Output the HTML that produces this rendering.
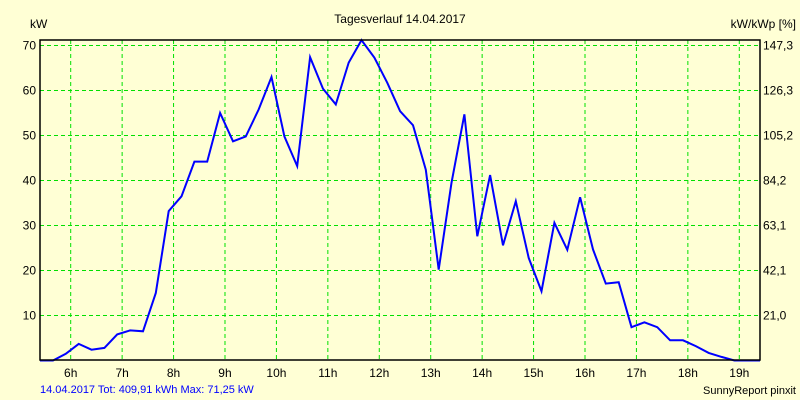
<!DOCTYPE html>
<html><head><meta charset="utf-8"><style>
body{margin:0;background:#FFFFD5;}
svg{display:block;font-family:"Liberation Sans",sans-serif;}
</style></head><body>
<svg id="chart" width="800" height="400">
<rect x="0" y="0" width="800" height="400" fill="#FFFFD5"/>
<text x="400" y="23" text-anchor="middle" font-size="12">Tagesverlauf 14.04.2017</text>
<text x="30" y="28" font-size="12">kW</text>
<text x="796" y="28" text-anchor="end" font-size="12">kW/kWp [%]</text>
<g id="grid"></g>
<g id="yl"></g><g id="yr"></g><g id="xl"></g>
<path id="line" fill="none" stroke="#0000FF" stroke-width="2"/>
<rect x="40" y="40" width="720" height="320" fill="none" stroke="#000" stroke-width="1.5"/>
<text x="40" y="393" font-size="11" fill="#0000FF">14.04.2017 Tot: 409,91 kWh Max: 71,25 kW</text>
<text x="796" y="394" text-anchor="end" font-size="11">SunnyReport pinxit</text>
</svg>
<script>
const yTicks=[10,20,30,40,50,60,70];
const y2Labels=["21,0","42,1","63,1","84,2","105,2","126,3","147,3"];
const hourTicks=[6,7,8,9,10,11,12,13,14,15,16,17,18,19];
const startHour=5.655;
const stepHour=0.25;
const power=[0,1.5,3.7,2.4,2.8,5.8,6.7,6.5,15,33.2,36.5,44.2,44.2,55,48.7,49.8,55.8,63,49.8,43.2,67.4,60.4,56.9,66.2,71.2,67.3,61.7,55.4,52.3,42.4,20.2,39.5,54.7,27.6,41.2,25.6,35.4,22.8,15.4,30.6,24.6,36.3,24.7,17.1,17.4,7.4,8.5,7.4,4.5,4.5,3.2,1.7,0.8,0];
const NS="http://www.w3.org/2000/svg";
const X=h=>70.7+(h-6)*51.43;
const Y=v=>360.5-v*4.5;
function mk(tag,parent,attrs){const e=document.createElementNS(NS,tag);for(const k in attrs)e.setAttribute(k,attrs[k]);document.getElementById(parent).appendChild(e);return e;}
yTicks.forEach((v,i)=>{
 const l=mk('line','grid',{x1:40,x2:760,y1:Y(v),y2:Y(v),stroke:'#00E000','stroke-dasharray':'4,3'});
 
 
 const t=mk('text','yl',{x:36,y:Y(v)+4,'text-anchor':'end','font-size':12});t.textContent=v;
 
 
 const t2=mk('text','yr',{x:763,y:Y(v)+4,'font-size':12});t2.textContent=y2Labels[i];
 
 
});
hourTicks.forEach(h=>{
 const l=mk('line','grid',{x1:X(h),x2:X(h),y1:40,y2:360,stroke:'#00E000','stroke-dasharray':'4,3'});
 
 
 const t=mk('text','xl',{x:X(h),y:377,'text-anchor':'middle','font-size':12});t.textContent=h+'h';
 
 
});
let d='M40,'+Y(0);
power.forEach((v,i)=>{d+=' L'+X(startHour+i*stepHour).toFixed(1)+','+Y(v).toFixed(1);});
d+=' L760,'+Y(0);
document.getElementById('line').setAttribute('d',d);
</script>
</body></html>
